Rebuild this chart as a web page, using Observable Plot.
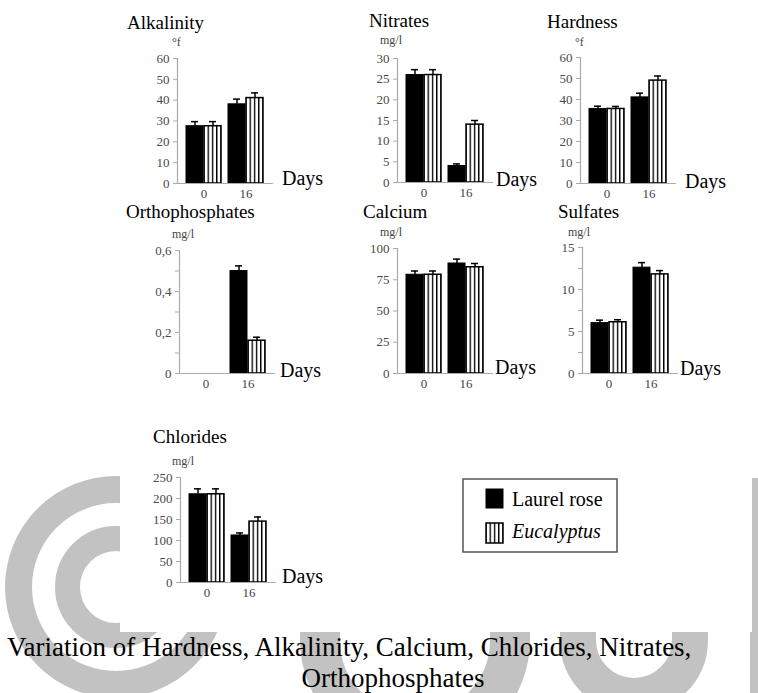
<!DOCTYPE html>
<html>
<head>
<meta charset="utf-8">
<script src="https://cdn.jsdelivr.net/npm/d3@7"></script>
<script src="https://cdn.jsdelivr.net/npm/@observablehq/plot@0.6"></script>
<style>
html, body { margin: 0; padding: 0; background: #fff; }
#page { position: relative; width: 758px; height: 693px; overflow: hidden; font-family: 'Liberation Serif', 'Times New Roman', serif; }
#wm { position: absolute; left: 0; top: 0; }
#sheet { position: absolute; left: 120px; top: 0; width: 632px; height: 632px; background: #fff; }
.panel { position: absolute; }
.panel svg, .panel svg text { font-family: 'Liberation Serif', 'Times New Roman', serif !important; }
#overlay { position: absolute; left: 0; top: 0; pointer-events: none; }
#overlay text { font-family: 'Liberation Serif', 'Times New Roman', serif; }
</style>
</head>
<body>
<div id="page">
  <svg id="wm" width="758" height="693">
    <g fill="none" stroke="#c2c2c2">
      <circle cx="116" cy="587" r="97.5" stroke-width="27"/>
      <circle cx="116" cy="587" r="48.5" stroke-width="25"/>
      <path d="M320 560 V640 A95 95 0 0 0 510 640 V560" stroke-width="40"/>
      <path d="M578 560 V640 A56 56 0 0 0 690 640 V560" stroke-width="36"/>
    </g>
    <rect x="750" y="478" width="8" height="215" fill="#c2c2c2"/>
  </svg>
  <div id="sheet"></div>
  <svg width="0" height="0" style="position:absolute">
    <defs>
      <pattern id="vstripes" patternUnits="objectBoundingBox" patternContentUnits="objectBoundingBox" x="-0.04" y="0" width="0.25" height="1">
        <rect x="0" y="0" width="0.25" height="1" fill="#fff"/>
        <rect x="0" y="0" width="0.08" height="1" fill="#000"/>
      </pattern>
    </defs>
  </svg>
  <div id="panels"></div>
  <svg id="overlay" width="758" height="693"></svg>
</div>
<script>
// ---- data ----
const days = ["0", "16"];
const species = ["Laurel rose", "Eucalyptus"];
const parameters = ["Alkalinity", "Nitrates", "Hardness", "Orthophosphates", "Calcium", "Sulfates", "Chlorides"];
const units = ["°f", "mg/l", "°f", "mg/l", "mg/l", "mg/l", "mg/l"];
const laurelValues = [[27.5, 38], [26, 4], [35.5, 41], [0, 0.5], [79, 88], [6, 12.6], [210, 112]];
const eucalyptusValues = [[27.5, 41], [26, 14], [35.5, 49], [0, 0.16], [79, 85], [6.1, 11.8], [210, 145]];
const laurelErrors = [[2.2, 2.5], [1.3, 0.5], [1.3, 2], [0, 0.025], [3, 3.5], [0.35, 0.6], [13, 6]];
const eucalyptusErrors = [[2.2, 2.5], [1.3, 1], [1.2, 2.2], [0, 0.017], [3, 3], [0.3, 0.45], [13, 11]];
const yMaxima = [60, 30, 60, 0.6, 100, 15, 250];
const yTickLabels = [
  [0, 10, 20, 30, 40, 50, 60],
  [0, 5, 10, 15, 20, 25, 30],
  [0, 10, 20, 30, 40, 50, 60],
  [0, 0.2, 0.4, 0.6],
  [0, 25, 50, 75, 100],
  [0, 5, 10, 15],
  [0, 50, 100, 150, 200, 250]
];
const yMinorTicks = [[], [], [], [0.1, 0.3, 0.5], [], [2.5, 7.5, 12.5], []];
const xAxisTitle = "Days";
const captionLines = ["Variation of Hardness, Alkalinity, Calcium, Chlorides, Nitrates,", "Orthophosphates"];

// ---- layout (positions only) ----
const layout = [
  {axisX: 177, y0: 183, yTop: 58,  title: [127, 29],  unit: [172, 46],  days: [282, 185]},
  {axisX: 397, y0: 182, yTop: 58,  title: [369, 27],  unit: [380, 44],  days: [496, 186]},
  {axisX: 580, y0: 183, yTop: 57,  title: [547, 28],  unit: [575, 46],  days: [685, 188]},
  {axisX: 179, y0: 373, yTop: 250, title: [126, 218], unit: [172, 238], days: [280, 377]},
  {axisX: 397, y0: 373, yTop: 248, title: [363, 218], unit: [380, 236], days: [495, 374]},
  {axisX: 582, y0: 373, yTop: 247, title: [558, 218], unit: [568, 236], days: [680, 375]},
  {axisX: 180, y0: 582, yTop: 477, title: [153, 443], unit: [172, 465], days: [282, 583]}
];

const serif = "'Liberation Serif', 'Times New Roman', serif";
const plotW = 96, mL = 40, mR = 10, mT = 8, mB = 24;
const padIn = 0.16, padOut = 0.2;
const step = plotW / (days.length - padIn + 2 * padOut);
const bw = step * (1 - padIn);
const half = bw / 2;
const capInset = (bw - 8) / 2;
const fmt = d => String(d).replace(".", ",");

const panels = document.getElementById("panels");

parameters.forEach((name, i) => {
  const L = layout[i];
  const h = L.y0 - L.yTop;
  const laurel = [], euc = [];
  days.forEach((d, j) => {
    laurel.push({day: d, species: species[0], value: laurelValues[i][j], err: laurelErrors[i][j]});
    euc.push({day: d, species: species[1], value: eucalyptusValues[i][j], err: eucalyptusErrors[i][j]});
  });
  const lDrawn = laurel.filter(r => r.value > 0);
  const eDrawn = euc.filter(r => r.value > 0);
  const marks = [
    Plot.barY(lDrawn, {x: "day", y: "value", fill: "#000", stroke: "#000", strokeWidth: 1, insetRight: half}),
    Plot.barY(eDrawn, {x: "day", y: "value", fill: "url(#vstripes)", stroke: "#000", strokeWidth: 1.5, insetLeft: half}),
    Plot.ruleX(lDrawn, {x: "day", y1: "value", y2: d => d.value + d.err, dx: -half / 2, stroke: "#000", strokeWidth: 1.5}),
    Plot.tickY(lDrawn, {x: "day", y: d => d.value + d.err, dx: -half / 2, insetLeft: capInset, insetRight: capInset, stroke: "#000", strokeWidth: 1.5}),
    Plot.ruleX(eDrawn, {x: "day", y1: "value", y2: d => d.value + d.err, dx: half / 2, stroke: "#000", strokeWidth: 1.5}),
    Plot.tickY(eDrawn, {x: "day", y: d => d.value + d.err, dx: half / 2, insetLeft: capInset, insetRight: capInset, stroke: "#000", strokeWidth: 1.5}),
    Plot.ruleY([0], {stroke: "#aaa", strokeWidth: 1.2}),
    Plot.frame({anchor: "left", stroke: "#aaa", strokeWidth: 1.2}),
    Plot.axisY(yTickLabels[i], {tickSize: 4, tickPadding: 4, tickFormat: fmt, stroke: "#aaa", fill: "#4a4a4a", label: null, fontSize: 13, fontFamily: serif}),
    Plot.axisX({tickSize: 0, tickPadding: 5, label: null, fill: "#444", fontSize: 13, fontFamily: serif})
  ];
  if (yMinorTicks[i].length) {
    marks.push(Plot.axisY(yMinorTicks[i], {tickSize: 4, tickFormat: () => "", stroke: "#aaa", label: null}));
  }
  const chart = Plot.plot({
    width: mL + plotW + mR,
    height: mT + h + mB,
    marginLeft: mL, marginRight: mR, marginTop: mT, marginBottom: mB,
    x: {domain: days, paddingInner: padIn, paddingOuter: padOut},
    y: {domain: [0, yMaxima[i]]},
    style: {fontFamily: serif, fontSize: "13px", background: "transparent", overflow: "visible"},
    marks
  });
  const wrap = document.createElement("div");
  wrap.className = "panel";
  wrap.style.left = (L.axisX - mL) + "px";
  wrap.style.top = (L.yTop - mT) + "px";
  wrap.appendChild(chart);
  panels.appendChild(wrap);
});

// ---- text overlay: titles, units, axis titles, legend, caption ----
const NS = "http://www.w3.org/2000/svg";
const overlay = document.getElementById("overlay");
function addText(x, y, str, attrs) {
  const t = document.createElementNS(NS, "text");
  t.setAttribute("x", x);
  t.setAttribute("y", y);
  for (const k in attrs) t.setAttribute(k, attrs[k]);
  t.textContent = str;
  overlay.appendChild(t);
  return t;
}
function addRect(attrs) {
  const r = document.createElementNS(NS, "rect");
  for (const k in attrs) r.setAttribute(k, attrs[k]);
  overlay.appendChild(r);
  return r;
}
parameters.forEach((name, i) => {
  const L = layout[i];
  addText(L.title[0], L.title[1], name, {"font-size": 19, fill: "#000"});
  addText(L.unit[0], L.unit[1], units[i], {"font-size": 12, fill: "#444"});
  addText(L.days[0], L.days[1], xAxisTitle, {"font-size": 20, fill: "#000"});
});

// legend
addRect({x: 463, y: 479, width: 154, height: 73, fill: "#fff", stroke: "#555", "stroke-width": 1.5});
addRect({x: 486, y: 489, width: 17, height: 19, fill: "#000", stroke: "#000", "stroke-width": 1});
addRect({x: 486, y: 523, width: 17, height: 20, fill: "url(#vstripes)", stroke: "#000", "stroke-width": 1.5});
addText(512, 506, species[0], {"font-size": 20, fill: "#000"});
addText(512, 538, species[1], {"font-size": 20, "font-style": "italic", fill: "#000"});

// caption
addText(7, 656, captionLines[0], {"font-size": 27, fill: "#000"});
addText(393, 687, captionLines[1], {"font-size": 27, fill: "#000", "text-anchor": "middle"});
</script>
</body>
</html>
